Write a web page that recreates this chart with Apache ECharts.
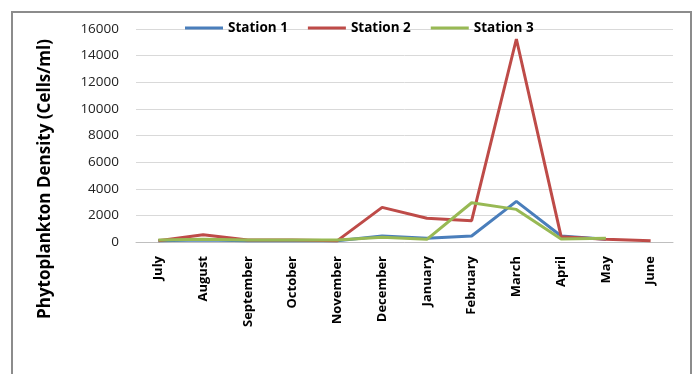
<!DOCTYPE html>
<html>
<head>
<meta charset="utf-8">
<script src="https://cdn.jsdelivr.net/npm/echarts@6/dist/echarts.min.js"></script>
<style>
  html, body { margin: 0; padding: 0; background: #fff; }
  #chart { width: 697px; height: 374px; }
</style>
</head>
<body>
<div id="chart"></div>
<script>
const months = ["July", "August", "September", "October", "November", "December",
  "January", "February", "March", "April", "May", "June"];
const station1 = [100, 150, 100, 100, 100, 450, 280, 450, 3050, 450, 200, null];
const station2 = [100, 550, 150, 150, 100, 2600, 1780, 1600, 15250, 400, 200, 100];
const station3 = [150, 200, 150, 150, 150, 350, 200, 2950, 2450, 230, 280, null];
const yTicks = { min: 0, max: 16000, interval: 2000 };

const chart = echarts.init(document.getElementById("chart"));
const font = "'Open Sans', 'DejaVu Sans', sans-serif";

chart.setOption({
  animation: false,
  textStyle: { fontFamily: font },
  graphic: [
    {
      type: "rect",
      shape: { x: 12, y: 12, width: 679, height: 420 },
      style: { fill: "none", stroke: "#8c8c8c", lineWidth: 2 },
    },
    {
      type: "text",
      x: 45,
      y: 179,
      rotation: Math.PI / 2,
      style: {
        text: "Phytoplankton Density (Cells/ml)",
        font: "bold 17px " + font,
        fill: "#000",
        align: "center",
        verticalAlign: "middle",
      },
    },
  ],
  legend: {
    top: 16,
    left: 180,
    itemWidth: 38,
    itemHeight: 3,
    itemGap: 20,
    icon: "rect",
    textStyle: { fontWeight: "bold", fontSize: 13.5, color: "#000", fontFamily: font },
    data: ["Station 1", "Station 2", "Station 3"],
  },
  grid: { left: 136, right: 24, top: 29, bottom: 132, containLabel: false },
  xAxis: {
    type: "category",
    data: months,
    boundaryGap: true,
    axisLine: { lineStyle: { color: "#bfbfbf" } },
    axisTick: { show: false },
    axisLabel: {
      rotate: 90,
      interval: 0,
      margin: 14,
      color: "#000",
      fontWeight: "bold",
      fontSize: 13,
      fontFamily: font,
    },
  },
  yAxis: {
    type: "value",
    min: yTicks.min,
    max: yTicks.max,
    interval: yTicks.interval,
    axisLine: { show: false },
    axisTick: { show: false },
    axisLabel: {
      color: "#222",
      fontSize: 13.5,
      margin: 17,
      fontFamily: font,
      formatter: (v) => String(v),
    },
    splitLine: { lineStyle: { color: "#d9d9d9", width: 1 } },
  },
  series: [
    {
      name: "Station 1",
      type: "line",
      data: station1,
      symbol: "none",
      color: "#4a7ebb",
      lineStyle: { width: 3 },
    },
    {
      name: "Station 2",
      type: "line",
      data: station2,
      symbol: "none",
      color: "#be4b48",
      lineStyle: { width: 3 },
    },
    {
      name: "Station 3",
      type: "line",
      data: station3,
      symbol: "none",
      color: "#98b954",
      lineStyle: { width: 3 },
    },
  ],
});
</script>
</body>
</html>
